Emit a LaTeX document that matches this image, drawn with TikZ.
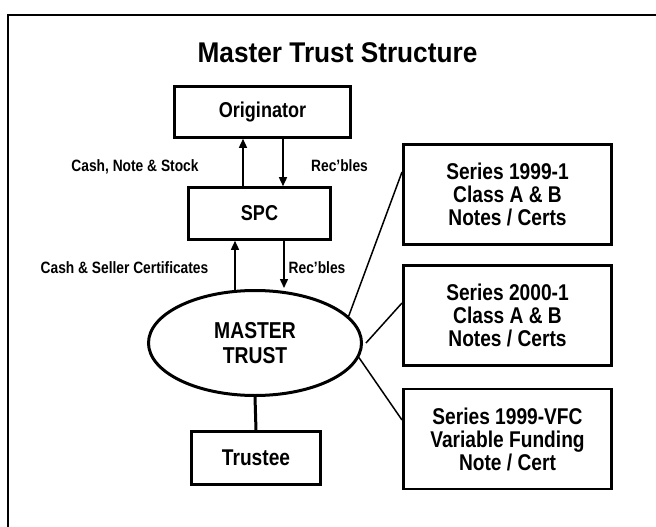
\documentclass[tikz,border=0pt]{standalone}
\usepackage{fontspec}
\newfontfamily\narrowsans{Liberation Sans}[FakeStretch=0.84]
\newfontfamily\titlesans{Liberation Sans}[FakeStretch=0.92]
\usetikzlibrary{shapes.geometric,arrows.meta}
\begin{document}
\begin{tikzpicture}[x=1pt,y=-1pt,
  box/.style={draw, rectangle, line width=2.6pt, inner sep=0pt, align=center,
    font=\narrowsans\bfseries\fontsize{22.8}{23}\selectfont},
  lbl/.style={inner sep=0pt, anchor=base,
    font=\narrowsans\bfseries\fontsize{16.4}{18}\selectfont},
  flow/.style={line width=1.5pt, -{Triangle[length=9pt,width=8pt]}},
  link/.style={line width=1.5pt},
]
\useasboundingbox (0,0) rectangle (656,527);

% slide frame (open towards the right and bottom)
\draw[line width=2.6pt] (656,15) -- (8,15) -- (8,527);

% title
\node[inner sep=0pt, anchor=base, font=\titlesans\bfseries\fontsize{28.5}{32}\selectfont]
  (title) at (337.5,63) {Master Trust Structure};

% main chain
\node[box, minimum width=176pt, minimum height=51pt, font=\narrowsans\bfseries\fontsize{21.5}{23}\selectfont]
  (orig) at (262.5,112) {Originator};
\node[box, minimum width=142pt, minimum height=52pt, font=\narrowsans\bfseries\fontsize{21.5}{23}\selectfont]
  (spc) at (259.5,213.5) {SPC};
\node[draw, ellipse, line width=3pt, inner sep=0pt, minimum width=213pt, minimum height=105pt,
  align=center, font=\narrowsans\bfseries\fontsize{23}{25.5}\selectfont]
  (mt) at (255,343) {MASTER\\TRUST};
\node[box, minimum width=129pt, minimum height=53pt] (trustee) at (256,458) {Trustee};

% series issued by the trust
\node[box, minimum width=208pt, minimum height=100pt] (s1) at (507.5,194.5)
  {Series 1999-1\\Class A \& B\\Notes / Certs};
\node[box, minimum width=208pt, minimum height=100pt] (s2) at (507.5,315.5)
  {Series 2000-1\\Class A \& B\\Notes / Certs};
\node[box, minimum width=208pt, minimum height=100pt] (s3) at (507.5,439)
  {Series 1999-VFC\\Variable Funding\\Note / Cert};

% arrow columns
\coordinate (xup1) at (243,0);
\coordinate (xdn1) at (283,0);
\coordinate (mtup) at (235,290);
\coordinate (mtdn) at (284,288);

\draw[flow] (spc.north -| xup1) -- (orig.south -| xup1);
\draw[flow] (orig.south -| xdn1) -- (spc.north -| xdn1);
\draw[flow] (mtup) -- (spc.south -| mtup);
\draw[flow] (spc.south -| mtdn) -- (mtdn);

% flow labels
\node[lbl] (l1) at (135,171) {Cash, Note \& Stock};
\node[lbl] (l2) at (339.5,171) {Rec’bles};
\node[lbl] (l3) at (124.5,273) {Cash \& Seller Certificates};
\node[lbl] (l4) at (317,273) {Rec’bles};

% trustee link
\draw[line width=3pt] (mt.south) -- (trustee.north);

% links to the series
\coordinate (e1) at (402,172);
\coordinate (e2) at (402,303);
\coordinate (e3) at (402,420);
\coordinate (m2) at (366,343);
\draw[link] (mt.16) -- (e1);
\draw[link] (m2) -- (e2);
\draw[link] (mt.-8) -- (e3);
\end{tikzpicture}
\end{document}
